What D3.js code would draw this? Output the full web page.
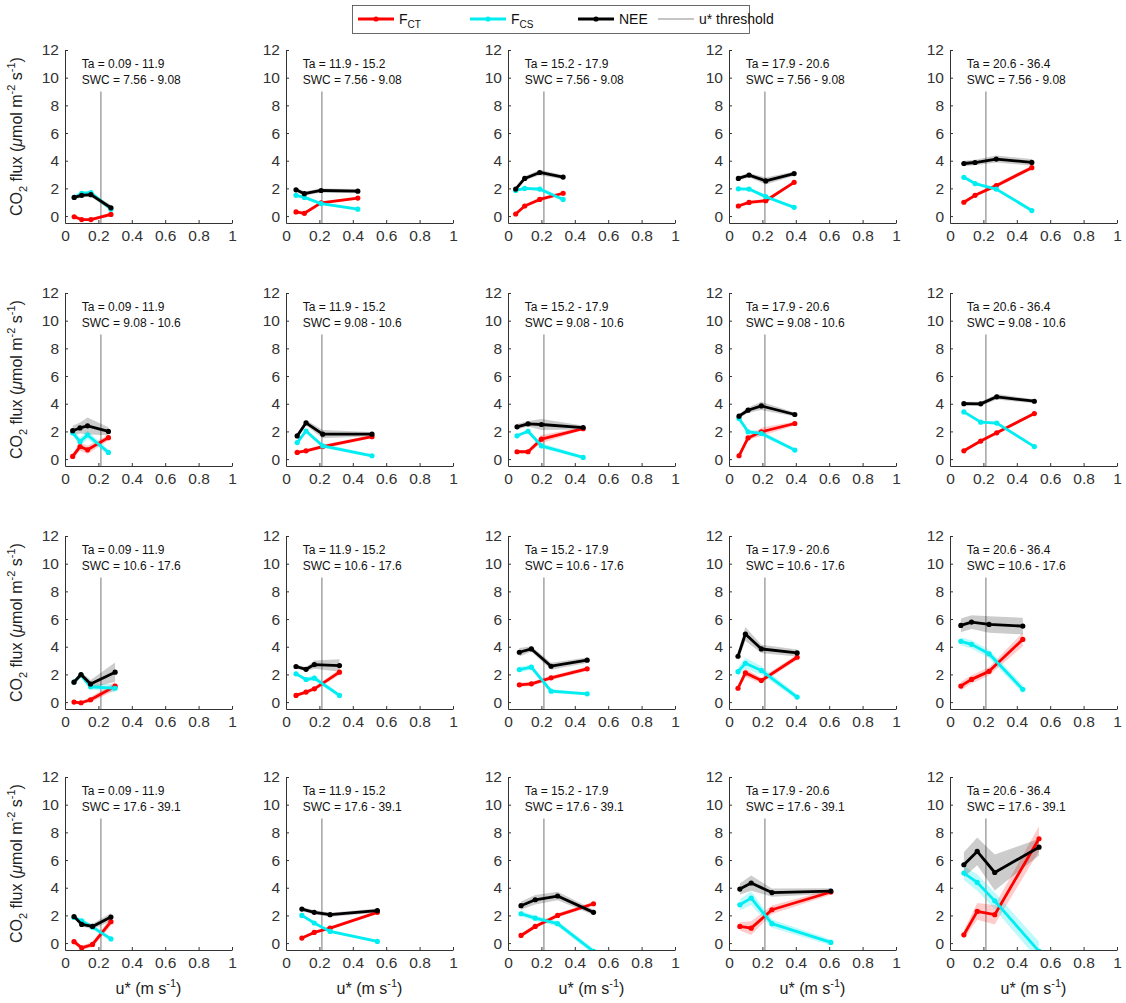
<!DOCTYPE html>
<html>
<head>
<meta charset="utf-8">
<script src="https://cdn.jsdelivr.net/npm/d3@7"></script>
<style>
  body { margin: 0; background: #fff; }
  svg { display: block; }
  text { font-family: "Liberation Sans", Arial, Helvetica, sans-serif; }
</style>
</head>
<body>
<svg id="chart" width="1126" height="1003"></svg>
<script>
// Air temperature classes (columns) and soil water content classes (rows)
const taBins  = ["0.09 - 11.9", "11.9 - 15.2", "15.2 - 17.9", "17.9 - 20.6", "20.6 - 36.4"];
const swcBins = ["7.56 - 9.08", "9.08 - 10.6", "10.6 - 17.6", "17.6 - 39.1"];

const xTicks = [0, 0.2, 0.4, 0.6, 0.8, 1];
const yTicks = [0, 2, 4, 6, 8, 10, 12];
const uStarThreshold = 0.215;

// u* bin centres per panel, row-major (SWC row, Ta column)
const ustar = [
  [0.055, 0.10, 0.155, 0.275], [0.06, 0.11, 0.21, 0.43], [0.046, 0.10, 0.19, 0.33], [0.056, 0.12, 0.22, 0.39], [0.083, 0.15, 0.277, 0.49],
  [0.046, 0.09, 0.135, 0.26],  [0.067, 0.12, 0.22, 0.515], [0.054, 0.12, 0.20, 0.45], [0.06, 0.114, 0.194, 0.394], [0.083, 0.184, 0.28, 0.505],
  [0.054, 0.096, 0.153, 0.30], [0.06, 0.12, 0.17, 0.32], [0.068, 0.14, 0.258, 0.474], [0.054, 0.098, 0.194, 0.408], [0.065, 0.129, 0.234, 0.436],
  [0.054, 0.10, 0.165, 0.275], [0.095, 0.169, 0.264, 0.547], [0.078, 0.163, 0.297, 0.512], [0.065, 0.133, 0.257, 0.61], [0.083, 0.163, 0.268, 0.533]
];

// Thermal-driven flux F_CT
const fCT = [
  [-0.05, -0.25, -0.25, 0.12], [0.3, 0.2, 0.95, 1.3], [0.15, 0.73, 1.2, 1.65], [0.73, 0.99, 1.11, 2.44], [1.0, 1.5, 2.2, 3.5],
  [0.19, 0.9, 0.67, 1.55], [0.48, 0.6, 0.9, 1.62], [0.53, 0.53, 1.44, 2.2], [0.24, 1.53, 1.97, 2.57], [0.6, 1.3, 1.9, 3.29],
  [0.0, -0.05, 0.17, 1.15], [0.48, 0.72, 0.96, 2.16], [1.25, 1.32, 1.75, 2.4], [1.0, 2.11, 1.56, 3.24], [1.16, 1.64, 2.22, 4.53],
  [0.1, -0.35, -0.1, 1.55], [0.36, 0.77, 1.08, 2.22], [0.55, 1.2, 2.0, 2.84], [1.2, 1.08, 2.41, 3.69], [0.6, 2.29, 2.05, 7.54]
];

// Shear-driven flux F_CS
const fCS = [
  [1.35, 1.65, 1.7, 0.5], [1.5, 1.35, 0.9, 0.5], [1.85, 2.0, 1.95, 1.2], [1.97, 1.95, 1.4, 0.63], [2.8, 2.35, 1.95, 0.4],
  [1.9, 1.26, 1.74, 0.48], [1.19, 2.03, 0.95, 0.24], [1.68, 2.01, 0.96, 0.12], [2.93, 1.97, 1.85, 0.65], [3.41, 2.67, 2.6, 0.9],
  [1.45, 1.95, 1.1, 1.0], [2.04, 1.63, 1.73, 0.48], [2.35, 2.52, 0.79, 0.6], [2.2, 2.8, 2.28, 0.36], [4.39, 4.17, 3.49, 0.92],
  [1.85, 1.6, 1.15, 0.3], [2.0, 1.45, 0.84, 0.12], [2.12, 1.8, 1.4, -0.6], [2.77, 3.25, 1.4, 0.05], [5.06, 4.38, 3.05, -0.6]
];

// Net ecosystem exchange
const nee = [
  [1.35, 1.5, 1.55, 0.6], [1.9, 1.62, 1.85, 1.8], [1.95, 2.72, 3.15, 2.82], [2.72, 2.96, 2.54, 3.07], [3.8, 3.87, 4.12, 3.88],
  [2.05, 2.25, 2.4, 2.0], [1.67, 2.62, 1.8, 1.8], [2.33, 2.55, 2.5, 2.28], [3.1, 3.53, 3.84, 3.22], [4.0, 3.99, 4.5, 4.18],
  [1.44, 1.99, 1.3, 2.16], [2.57, 2.37, 2.71, 2.64], [3.6, 3.84, 2.59, 3.03], [3.31, 4.92, 3.84, 3.55], [5.54, 5.78, 5.61, 5.49],
  [1.92, 1.35, 1.2, 1.88], [2.46, 2.22, 2.05, 2.34], [2.7, 3.13, 3.4, 2.22], [3.9, 4.34, 3.65, 3.76], [5.66, 6.62, 5.1, 6.93]
];

// Half-widths of the shaded uncertainty bands
const fCTerr = [
  [0.15, 0.1, 0.1, 0.15], [0.1, 0.1, 0.1, 0.1], [0.1, 0.1, 0.15, 0.1], [0.1, 0.1, 0.15, 0.1], [0.1, 0.1, 0.15, 0.15],
  [0.2, 0.3, 0.3, 0.2], [0.1, 0.1, 0.15, 0.1], [0.1, 0.1, 0.3, 0.1], [0.1, 0.15, 0.3, 0.15], [0.1, 0.1, 0.1, 0.1],
  [0.1, 0.1, 0.2, 0.3], [0.1, 0.1, 0.15, 0.2], [0.15, 0.15, 0.15, 0.15], [0.2, 0.3, 0.2, 0.2], [0.3, 0.3, 0.3, 0.5],
  [0.15, 0.15, 0.2, 0.3], [0.1, 0.1, 0.1, 0.1], [0.15, 0.15, 0.15, 0.15], [0.3, 0.5, 0.3, 0.2], [0.3, 0.6, 0.7, 0.9]
];
const fCSerr = [
  [0.1, 0.1, 0.1, 0.1], [0.1, 0.1, 0.1, 0.1], [0.1, 0.1, 0.15, 0.1], [0.1, 0.1, 0.15, 0.1], [0.1, 0.1, 0.1, 0.1],
  [0.2, 0.3, 0.3, 0.2], [0.15, 0.15, 0.15, 0.1], [0.1, 0.1, 0.2, 0.1], [0.15, 0.15, 0.2, 0.1], [0.1, 0.1, 0.1, 0.1],
  [0.1, 0.2, 0.2, 0.3], [0.1, 0.15, 0.2, 0.15], [0.2, 0.2, 0.15, 0.1], [0.3, 0.4, 0.3, 0.2], [0.3, 0.3, 0.3, 0.3],
  [0.1, 0.15, 0.15, 0.15], [0.1, 0.1, 0.1, 0.1], [0.2, 0.2, 0.2, 0.2], [0.4, 0.5, 0.3, 0.2], [0.5, 0.6, 0.6, 0.7]
];
const neeErr = [
  [0.15, 0.15, 0.15, 0.2], [0.15, 0.15, 0.15, 0.15], [0.15, 0.15, 0.2, 0.15], [0.15, 0.15, 0.25, 0.15], [0.2, 0.2, 0.25, 0.25],
  [0.35, 0.4, 0.6, 0.3], [0.2, 0.2, 0.3, 0.15], [0.2, 0.2, 0.4, 0.15], [0.15, 0.2, 0.3, 0.15], [0.15, 0.15, 0.2, 0.15],
  [0.2, 0.2, 0.3, 0.7], [0.15, 0.15, 0.3, 0.45], [0.3, 0.2, 0.25, 0.2], [0.3, 0.5, 0.3, 0.25], [0.5, 0.5, 0.6, 0.6],
  [0.15, 0.15, 0.2, 0.3], [0.15, 0.15, 0.15, 0.15], [0.3, 0.35, 0.3, 0.2], [0.4, 0.55, 0.3, 0.2], [0.9, 1.0, 1.3, 0.6]
];

// Series styling, drawn in legend order (NEE last, on top)
const series = [
  { key: "fct", values: fCT, err: fCTerr, color: "#ff0000", band: "rgba(255,0,0,0.2)" },
  { key: "fcs", values: fCS, err: fCSerr, color: "#00eef2", band: "rgba(0,230,240,0.25)" },
  { key: "nee", values: nee, err: neeErr, color: "#000000", band: "rgba(0,0,0,0.2)" }
];

const svg = d3.select("#chart");
const colLeft = [65, 286, 508, 729, 950];
const rowTop = [50, 293, 536, 777];
const panelW = 167, panelH = 173;
const axisColor = "#333";

// one clip rectangle per panel keeps clipped values inside the axes
const defs = svg.append("defs");

swcBins.forEach((swc, r) => {
  taBins.forEach((ta, c) => {
    const idx = r * taBins.length + c;
    const left = colLeft[c], top = rowTop[r];
    const x = d3.scaleLinear().domain([0, 1]).range([left, left + panelW]);
    const y = d3.scaleLinear().domain([-0.5, 12]).range([top + panelH, top]);

    const clipId = "clip-" + idx;
    defs.append("clipPath").attr("id", clipId)
      .append("rect").attr("x", left).attr("y", top).attr("width", panelW).attr("height", panelH);

    const g = svg.append("g").attr("class", "panel");
    const plot = g.append("g").attr("clip-path", `url(#${clipId})`);

    // u* threshold
    plot.append("line")
      .attr("x1", x(uStarThreshold)).attr("x2", x(uStarThreshold))
      .attr("y1", y(-0.5)).attr("y2", y(9))
      .attr("stroke", "#8c8c8c").attr("stroke-width", 1.2);

    const pts = s => ustar[idx].map((u, i) => ({ u, v: s.values[idx][i], e: s.err[idx][i] }));

    // uncertainty bands
    series.forEach(s => {
      plot.append("path")
        .datum(pts(s))
        .attr("fill", s.band)
        .attr("d", d3.area().x(d => x(d.u)).y0(d => y(d.v - d.e)).y1(d => y(d.v + d.e)));
    });

    // mean lines with dot markers
    series.forEach(s => {
      const data = pts(s);
      plot.append("path")
        .datum(data)
        .attr("fill", "none")
        .attr("stroke", s.color)
        .attr("stroke-width", 2.8)
        .attr("stroke-linejoin", "round")
        .attr("d", d3.line().x(d => x(d.u)).y(d => y(d.v)));
      plot.selectAll(null).data(data).enter().append("circle")
        .attr("cx", d => x(d.u)).attr("cy", d => y(d.v)).attr("r", 2.6)
        .attr("fill", s.color);
    });

    // axes (ticks point inward)
    const yAxis = g.append("g").attr("transform", `translate(${left},0)`)
      .call(d3.axisLeft(y).tickValues(yTicks).tickSize(-3).tickSizeOuter(0).tickPadding(6));
    const xAxis = g.append("g").attr("transform", `translate(0,${top + panelH})`)
      .call(d3.axisBottom(x).tickValues(xTicks).tickSize(-3).tickSizeOuter(0).tickPadding(7)
        .tickFormat(d => String(d)));
    [yAxis, xAxis].forEach(a => {
      a.selectAll("path, line").attr("stroke", axisColor);
      a.selectAll("text").attr("fill", "#333").style("font-size", "15.5px")
        .style("font-family", "'Liberation Sans', Arial, sans-serif");
    });

    // class annotation
    g.append("text").attr("x", x(0.1)).attr("y", y(11)).attr("dy", "0.35em")
      .attr("font-size", 12).attr("fill", "#111").text("Ta = " + ta);
    g.append("text").attr("x", x(0.1)).attr("y", y(9.85)).attr("dy", "0.35em")
      .attr("font-size", 12).attr("fill", "#111").text("SWC = " + swc);

    // y label on the first column
    if (c === 0) {
      const cy = (y(-0.5) + y(12)) / 2;
      const t = g.append("text")
        .attr("transform", `translate(22,${cy}) rotate(-90)`)
        .attr("text-anchor", "middle").attr("font-size", 16).attr("fill", "#222");
      t.append("tspan").text("CO");
      t.append("tspan").attr("font-size", 11).attr("dy", 5).text("2");
      t.append("tspan").attr("dy", -5).text(" flux (");
      t.append("tspan").attr("font-style", "italic").text("\u03bc");
      t.append("tspan").text("mol m");
      t.append("tspan").attr("font-size", 11).attr("dy", -7).text("-2");
      t.append("tspan").attr("dy", 7).text(" s");
      t.append("tspan").attr("font-size", 11).attr("dy", -7).text("-1");
      t.append("tspan").attr("dy", 7).text(")");
    }
    // x label on the last row
    if (r === swcBins.length - 1) {
      const t = g.append("text")
        .attr("x", (x(0) + x(1)) / 2).attr("y", 994)
        .attr("text-anchor", "middle").attr("font-size", 16).attr("fill", "#222");
      t.append("tspan").text("u* (m s");
      t.append("tspan").attr("font-size", 11).attr("dy", -7).text("-1");
      t.append("tspan").attr("dy", 7).text(")");
    }
  });
});

// legend
const legend = svg.append("g");
legend.append("rect").attr("x", 352.5).attr("y", 5.5).attr("width", 397).attr("height", 28)
  .attr("fill", "#fff").attr("stroke", "#444").attr("stroke-width", 0.8);
const legendItems = [
  { label: "F", sub: "CT", color: "#ff0000", x: 358, w: 2.8, dot: true },
  { label: "F", sub: "CS", color: "#00eef2", x: 470, w: 2.8, dot: true },
  { label: "NEE", sub: null, color: "#000000", x: 578, w: 2.8, dot: true },
  { label: "u* threshold", sub: null, color: "#8c8c8c", x: 658, w: 1.2, dot: false }
];
legendItems.forEach(it => {
  legend.append("line").attr("x1", it.x).attr("x2", it.x + 36).attr("y1", 19).attr("y2", 19)
    .attr("stroke", it.color).attr("stroke-width", it.w);
  if (it.dot) legend.append("circle").attr("cx", it.x + 18).attr("cy", 19).attr("r", 2.6).attr("fill", it.color);
  const t = legend.append("text").attr("x", it.x + 41).attr("y", 24)
    .attr("font-size", 14).attr("fill", "#111");
  t.append("tspan").text(it.label);
  if (it.sub) t.append("tspan").attr("font-size", 10).attr("dy", 4).text(it.sub);
});
</script>
</body>
</html>
